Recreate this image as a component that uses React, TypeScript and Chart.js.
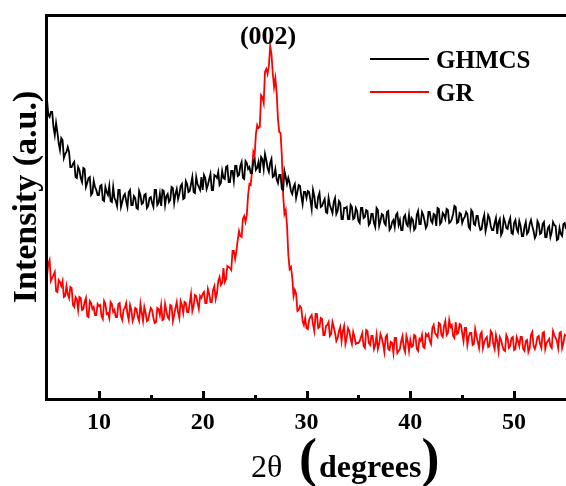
import React, { useEffect, useRef } from "react";
import { Chart, registerables } from "chart.js";

Chart.register(...registerables);

const ANGLES = [
  5, 5.125, 5.25, 5.375, 5.5, 5.625, 5.75, 5.875,
  6, 6.125, 6.25, 6.375, 6.5, 6.625, 6.75, 6.875,
  7, 7.125, 7.25, 7.375, 7.5, 7.625, 7.75, 7.875,
  8, 8.125, 8.25, 8.375, 8.5, 8.625, 8.75, 8.875,
  9, 9.125, 9.25, 9.375, 9.5, 9.625, 9.75, 9.875,
  10, 10.125, 10.25, 10.375, 10.5, 10.625, 10.75, 10.875,
  11, 11.125, 11.25, 11.375, 11.5, 11.625, 11.75, 11.875,
  12, 12.125, 12.25, 12.375, 12.5, 12.625, 12.75, 12.875,
  13, 13.125, 13.25, 13.375, 13.5, 13.625, 13.75, 13.875,
  14, 14.125, 14.25, 14.375, 14.5, 14.625, 14.75, 14.875,
  15, 15.125, 15.25, 15.375, 15.5, 15.625, 15.75, 15.875,
  16, 16.125, 16.25, 16.375, 16.5, 16.625, 16.75, 16.875,
  17, 17.125, 17.25, 17.375, 17.5, 17.625, 17.75, 17.875,
  18, 18.125, 18.25, 18.375, 18.5, 18.625, 18.75, 18.875,
  19, 19.125, 19.25, 19.375, 19.5, 19.625, 19.75, 19.875,
  20, 20.125, 20.25, 20.375, 20.5, 20.625, 20.75, 20.875,
  21, 21.125, 21.25, 21.375, 21.5, 21.625, 21.75, 21.875,
  22, 22.125, 22.25, 22.375, 22.5, 22.625, 22.75, 22.875,
  23, 23.125, 23.25, 23.375, 23.5, 23.625, 23.75, 23.875,
  24, 24.125, 24.25, 24.375, 24.5, 24.625, 24.75, 24.875,
  25, 25.125, 25.25, 25.375, 25.5, 25.625, 25.75, 25.875,
  26, 26.125, 26.25, 26.375, 26.5, 26.625, 26.75, 26.875,
  27, 27.125, 27.25, 27.375, 27.5, 27.625, 27.75, 27.875,
  28, 28.125, 28.25, 28.375, 28.5, 28.625, 28.75, 28.875,
  29, 29.125, 29.25, 29.375, 29.5, 29.625, 29.75, 29.875,
  30, 30.125, 30.25, 30.375, 30.5, 30.625, 30.75, 30.875,
  31, 31.125, 31.25, 31.375, 31.5, 31.625, 31.75, 31.875,
  32, 32.125, 32.25, 32.375, 32.5, 32.625, 32.75, 32.875,
  33, 33.125, 33.25, 33.375, 33.5, 33.625, 33.75, 33.875,
  34, 34.125, 34.25, 34.375, 34.5, 34.625, 34.75, 34.875,
  35, 35.125, 35.25, 35.375, 35.5, 35.625, 35.75, 35.875,
  36, 36.125, 36.25, 36.375, 36.5, 36.625, 36.75, 36.875,
  37, 37.125, 37.25, 37.375, 37.5, 37.625, 37.75, 37.875,
  38, 38.125, 38.25, 38.375, 38.5, 38.625, 38.75, 38.875,
  39, 39.125, 39.25, 39.375, 39.5, 39.625, 39.75, 39.875,
  40, 40.125, 40.25, 40.375, 40.5, 40.625, 40.75, 40.875,
  41, 41.125, 41.25, 41.375, 41.5, 41.625, 41.75, 41.875,
  42, 42.125, 42.25, 42.375, 42.5, 42.625, 42.75, 42.875,
  43, 43.125, 43.25, 43.375, 43.5, 43.625, 43.75, 43.875,
  44, 44.125, 44.25, 44.375, 44.5, 44.625, 44.75, 44.875,
  45, 45.125, 45.25, 45.375, 45.5, 45.625, 45.75, 45.875,
  46, 46.125, 46.25, 46.375, 46.5, 46.625, 46.75, 46.875,
  47, 47.125, 47.25, 47.375, 47.5, 47.625, 47.75, 47.875,
  48, 48.125, 48.25, 48.375, 48.5, 48.625, 48.75, 48.875,
  49, 49.125, 49.25, 49.375, 49.5, 49.625, 49.75, 49.875,
  50, 50.125, 50.25, 50.375, 50.5, 50.625, 50.75, 50.875,
  51, 51.125, 51.25, 51.375, 51.5, 51.625, 51.75, 51.875,
  52, 52.125, 52.25, 52.375, 52.5, 52.625, 52.75, 52.875,
  53, 53.125, 53.25, 53.375, 53.5, 53.625, 53.75, 53.875,
  54, 54.125, 54.25, 54.375, 54.5, 54.625, 54.75, 54.875,
  55,
];

const GHMCS = [
  301, 285, 283, 288, 288, 273, 265, 277, 268, 257, 250, 262, 260, 242, 246, 248, 253, 248, 233, 233,
  236, 238, 223, 222, 233, 230, 222, 218, 232, 231, 213, 217, 222, 223, 205, 207, 219, 213, 210, 205,
  205, 214, 215, 200, 199, 213, 208, 205, 214, 199, 198, 213, 202, 199, 194, 210, 210, 193, 198, 204,
  206, 199, 193, 208, 210, 195, 195, 204, 202, 192, 191, 209, 205, 196, 197, 205, 206, 192, 194, 202,
  203, 197, 193, 210, 210, 195, 197, 206, 194, 210, 209, 195, 204, 206, 198, 200, 213, 212, 197, 206,
  211, 201, 206, 214, 216, 201, 202, 219, 216, 208, 209, 216, 223, 208, 207, 223, 216, 213, 210, 223,
  210, 225, 222, 211, 215, 221, 226, 210, 210, 225, 224, 222, 228, 215, 217, 229, 222, 221, 233, 234,
  218, 218, 229, 229, 219, 234, 234, 224, 225, 234, 238, 222, 221, 239, 237, 231, 233, 227, 227, 239,
  241, 230, 232, 238, 227, 243, 241, 231, 246, 240, 232, 228, 237, 241, 223, 224, 231, 221, 217, 225,
  225, 211, 210, 229, 223, 216, 222, 217, 209, 206, 213, 216, 202, 208, 215, 214, 204, 196, 208, 208,
  202, 209, 208, 200, 191, 210, 204, 193, 192, 203, 207, 193, 194, 198, 201, 188, 187, 202, 195, 191,
  187, 198, 202, 186, 189, 199, 197, 181, 181, 192, 192, 193, 181, 181, 195, 193, 181, 182, 192, 189,
  179, 177, 192, 192, 182, 183, 190, 189, 175, 177, 186, 186, 177, 173, 192, 190, 174, 179, 186, 185,
  177, 175, 188, 189, 170, 172, 178, 180, 173, 185, 187, 175, 180, 170, 170, 183, 185, 176, 174, 185,
  173, 182, 180, 170, 172, 185, 189, 176, 176, 188, 185, 179, 172, 175, 188, 188, 179, 177, 186, 185,
  174, 192, 191, 176, 178, 187, 185, 181, 191, 190, 177, 178, 181, 186, 194, 193, 177, 178, 187, 186,
  177, 181, 183, 188, 186, 173, 171, 190, 188, 176, 175, 184, 184, 175, 170, 171, 180, 185, 169, 175,
  185, 182, 174, 170, 170, 177, 182, 166, 178, 181, 165, 168, 182, 178, 172, 171, 178, 182, 167, 166,
  177, 180, 171, 168, 179, 174, 164, 164, 173, 178, 166, 168, 176, 180, 174, 169, 162, 165, 179, 176,
  166, 167, 176, 178, 163, 163, 172, 174, 163, 168, 178, 175, 174, 160, 161, 172, 166, 164, 176, 177,
  171,
];

const GR = [
  124, 136, 140, 119, 122, 125, 128, 109, 108, 120, 118, 114, 119, 103, 104, 114, 106, 102, 113, 112,
  95, 93, 103, 101, 90, 103, 102, 90, 91, 98, 102, 84, 83, 99, 97, 91, 93, 85, 85, 96,
  94, 95, 84, 81, 99, 96, 86, 87, 82, 98, 96, 88, 90, 83, 83, 96, 97, 84, 80, 90,
  92, 97, 86, 80, 95, 90, 79, 83, 92, 91, 83, 79, 96, 87, 79, 93, 87, 79, 80, 87,
  92, 90, 82, 77, 78, 92, 91, 85, 95, 80, 81, 96, 89, 83, 81, 95, 94, 79, 85, 92,
  98, 88, 82, 99, 95, 87, 98, 97, 88, 88, 97, 106, 89, 94, 105, 104, 97, 91, 104, 102,
  106, 108, 97, 97, 111, 106, 98, 98, 110, 114, 101, 107, 119, 123, 115, 117, 132, 118, 121, 134,
  133, 132, 130, 149, 149, 141, 149, 160, 169, 164, 163, 181, 184, 178, 185, 205, 216, 215, 229, 248,
  244, 266, 275, 272, 273, 305, 303, 297, 328, 331, 326, 334, 354, 346, 327, 313, 322, 307, 281, 268,
  267, 244, 205, 186, 190, 174, 145, 131, 133, 123, 104, 110, 106, 89, 90, 94, 92, 79, 75, 82,
  72, 71, 80, 83, 85, 76, 69, 86, 86, 72, 73, 82, 81, 65, 65, 74, 75, 78, 64, 66,
  78, 73, 67, 59, 62, 69, 73, 59, 69, 74, 56, 62, 72, 69, 61, 56, 68, 63, 56, 57,
  57, 59, 63, 67, 54, 52, 70, 69, 57, 55, 64, 64, 51, 55, 65, 51, 56, 66, 62, 56,
  48, 63, 65, 51, 50, 58, 57, 47, 62, 62, 47, 49, 51, 59, 64, 52, 48, 64, 59, 49,
  60, 53, 54, 65, 64, 51, 49, 61, 59, 65, 53, 52, 66, 64, 66, 59, 56, 72, 75, 67,
  65, 63, 77, 76, 65, 63, 74, 79, 65, 67, 80, 73, 75, 64, 62, 78, 66, 67, 76, 75,
  67, 59, 72, 72, 55, 63, 67, 67, 55, 56, 71, 64, 58, 52, 66, 68, 52, 58, 61, 63,
  53, 54, 69, 67, 56, 51, 65, 59, 49, 63, 60, 54, 50, 49, 65, 62, 52, 54, 62, 63,
  50, 51, 63, 59, 54, 63, 63, 51, 49, 59, 60, 48, 52, 65, 68, 54, 51, 56, 63, 64,
  56, 52, 67, 68, 51, 57, 59, 61, 54, 52, 69, 65, 62, 59, 52, 67, 68, 52, 57, 65,
  64,
];

const SERIES_LABELS = ["GHMCS", "GR"];
const SERIES_COLORS = ["#000000", "#ff0000"];
const X_TICKS = [10, 20, 30, 40, 50];
const X_MINOR_TICKS = [15, 25, 35, 45];
const X_RANGE = [5, 55];
const Y_RANGE = [0, 385];
const PEAK_LABEL = "(002)";
const PEAK_ANGLE = 26.3;
const Y_TITLE = "Intensity (a.u.)";
const X_TITLE_SYMBOL = "2θ";
const X_TITLE_UNIT = "degrees";

const SERIF = '"Liberation Serif", "Times New Roman", serif';

const decorPlugin = {
  id: "decor",
  afterDraw(chart: any) {
    const { ctx, chartArea: a, scales } = chart;
    const xs = scales.x;
    ctx.save();
    // frame: top, left, bottom
    ctx.strokeStyle = "#000";
    ctx.lineWidth = 3;
    ctx.lineCap = "butt";
    ctx.beginPath();
    ctx.moveTo(a.right + 2, a.top + 0.5);
    ctx.lineTo(a.left - 0.5, a.top + 0.5);
    ctx.lineTo(a.left - 0.5, a.bottom - 0.5);
    ctx.lineTo(a.right + 2, a.bottom - 0.5);
    ctx.stroke();
    // inward ticks
    ctx.beginPath();
    X_TICKS.forEach((v) => {
      const px = Math.round(xs.getPixelForValue(v)) + 0.5;
      ctx.moveTo(px, a.bottom - 1);
      ctx.lineTo(px, a.bottom - 9);
    });
    X_MINOR_TICKS.forEach((v) => {
      const px = Math.round(xs.getPixelForValue(v)) + 0.5;
      ctx.moveTo(px, a.bottom - 1);
      ctx.lineTo(px, a.bottom - 5);
    });
    ctx.stroke();

    ctx.fillStyle = "#000";
    // peak label
    ctx.font = `bold 26px ${SERIF}`;
    ctx.textAlign = "center";
    ctx.textBaseline = "alphabetic";
    ctx.fillText(PEAK_LABEL, xs.getPixelForValue(PEAK_ANGLE), 44);

    // legend
    const lx0 = 370;
    const lx1 = 429;
    const rows = [59, 92];
    chart.data.datasets.forEach((ds: any, i: number) => {
      ctx.strokeStyle = ds.borderColor;
      ctx.lineWidth = 2;
      ctx.beginPath();
      ctx.moveTo(lx0, rows[i]);
      ctx.lineTo(lx1, rows[i]);
      ctx.stroke();
      ctx.font = `bold 25px ${SERIF}`;
      ctx.textAlign = "left";
      ctx.fillText(ds.label, 436, rows[i] + 9);
    });

    // y title
    ctx.save();
    ctx.translate(36, 197);
    ctx.rotate(-Math.PI / 2);
    ctx.font = `bold 34px ${SERIF}`;
    ctx.textAlign = "center";
    ctx.fillText(Y_TITLE, 0, 0);
    ctx.restore();

    // x title
    const base = 477;
    ctx.textAlign = "left";
    let x = 251;
    ctx.font = `32px ${SERIF}`;
    ctx.fillText(X_TITLE_SYMBOL, x, base);
    x = 299;
    ctx.font = `bold 54px ${SERIF}`;
    ctx.fillText("(", x, base - 1);
    x += ctx.measureText("(").width + 2;
    ctx.font = `bold 32px ${SERIF}`;
    ctx.fillText(X_TITLE_UNIT, x, base);
    x += ctx.measureText(X_TITLE_UNIT).width;
    ctx.font = `bold 54px ${SERIF}`;
    ctx.fillText(")", x, base - 1);

    ctx.restore();
  },
};

export default function App() {
  const ref = useRef<HTMLCanvasElement | null>(null);
  useEffect(() => {
    if (!ref.current) return;
    const chart = new Chart(ref.current, {
      type: "line",
      data: {
        datasets: [
          {
            label: SERIES_LABELS[0],
            data: ANGLES.map((a, i) => ({ x: a, y: GHMCS[i] })),
            borderColor: SERIES_COLORS[0],
            borderWidth: 1.8,
            pointRadius: 0,
            tension: 0,
          },
          {
            label: SERIES_LABELS[1],
            data: ANGLES.map((a, i) => ({ x: a, y: GR[i] })),
            borderColor: SERIES_COLORS[1],
            borderWidth: 1.8,
            pointRadius: 0,
            tension: 0,
          },
        ],
      },
      options: {
        animation: false,
        responsive: false,
        devicePixelRatio: 1,
        layout: { padding: { top: 15, left: 0, right: 0, bottom: 0 } },
        plugins: { legend: { display: false }, tooltip: { enabled: false } },
        scales: {
          x: {
            type: "linear",
            min: X_RANGE[0],
            max: X_RANGE[1],
            grid: { display: false, drawTicks: false },
            border: { display: false },
            ticks: {
              color: "#000",
              font: { family: SERIF, size: 24, weight: "bold" },
              padding: 8,
              maxRotation: 0,
            },
            afterBuildTicks: (s: any) => {
              s.ticks = X_TICKS.map((v) => ({ value: v }));
            },
            afterFit: (s: any) => {
              s.height = 86;
            },
          },
          y: {
            min: Y_RANGE[0],
            max: Y_RANGE[1],
            grid: { display: false, drawTicks: false },
            border: { display: false },
            ticks: { display: false },
            afterFit: (s: any) => {
              s.width = 47;
            },
          },
        },
      } as any,
      plugins: [decorPlugin],
    });
    return () => chart.destroy();
  }, []);
  return (
    <div style={{ position: "absolute", left: 0, top: 0, width: 566, height: 486, background: "#fff" }}>
      <canvas ref={ref} width={566} height={486} />
    </div>
  );
}
